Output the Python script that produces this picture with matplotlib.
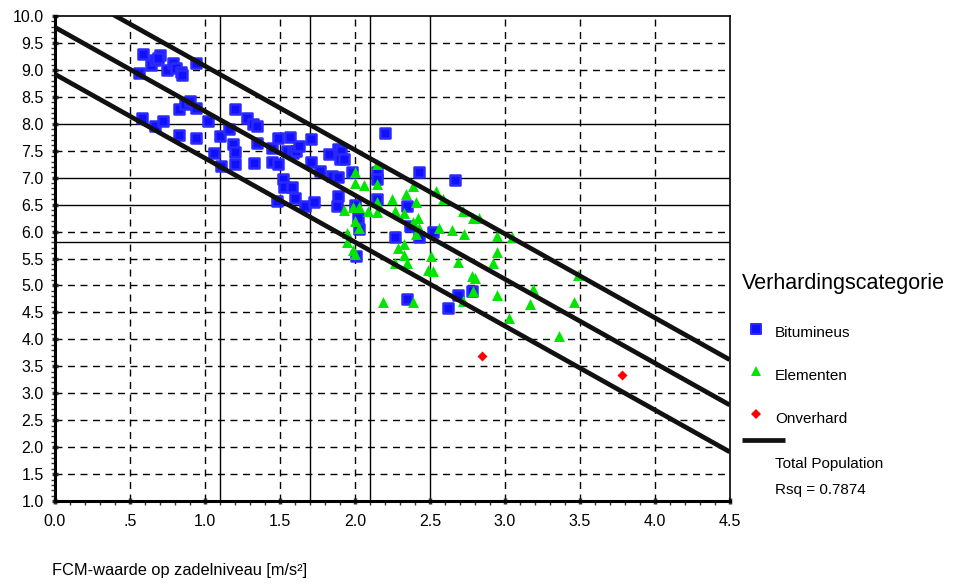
import matplotlib
matplotlib.use('Agg')
import matplotlib.pyplot as plt
from matplotlib.lines import Line2D
from matplotlib.markers import MarkerStyle
from matplotlib.ticker import MultipleLocator

plt.rcParams['font.family'] = ['Liberation Sans', 'DejaVu Sans']

# Bitumineus (blue squares)
bit_x = [0.59, 0.56, 0.64, 0.67, 0.70, 0.69, 0.75, 0.79, 0.81, 0.84, 0.85, 0.94,
         0.58, 0.67, 0.72, 0.83, 0.87, 0.90, 0.94, 0.83, 0.94, 1.02, 1.06, 1.10,
         1.11, 1.16, 1.20, 1.19, 1.20, 1.20, 1.28, 1.32, 1.35, 1.33, 1.35, 1.45,
         1.45, 1.49, 1.49, 1.52, 1.53, 1.58, 1.57, 1.55, 1.59, 1.61, 1.63, 1.48,
         1.60, 1.67, 1.73, 1.71, 1.71, 1.77, 1.89, 1.91, 1.83, 1.90, 1.93, 1.85,
         1.89, 1.98, 2.15, 2.15, 2.43, 2.67, 1.89, 1.88, 2.00, 2.15, 2.35, 2.02,
         2.03, 2.27, 2.43, 2.52, 2.37, 2.01, 2.20, 2.35, 2.62, 2.69, 2.78]
bit_y = [9.30, 8.95, 9.10, 9.19, 9.28, 9.22, 9.00, 9.13, 9.04, 8.97, 8.91, 9.13,
         8.10, 7.95, 8.06, 8.27, 8.36, 8.42, 8.30, 7.79, 7.73, 8.06, 7.45, 7.77,
         7.22, 7.90, 8.27, 7.62, 7.47, 7.25, 8.10, 7.99, 7.95, 7.27, 7.64, 7.56,
         7.29, 7.25, 7.73, 6.97, 6.83, 6.83, 7.75, 7.49, 7.45, 7.49, 7.58, 6.57,
         6.62, 6.48, 6.55, 7.71, 7.29, 7.12, 7.53, 7.50, 7.44, 7.34, 7.34, 7.03,
         7.01, 7.10, 7.10, 6.97, 7.10, 6.96, 6.66, 6.48, 6.49, 6.60, 6.48, 6.25,
         6.05, 5.90, 5.90, 6.00, 6.11, 5.54, 7.82, 4.74, 4.59, 4.83, 4.89]

# Elementen (green triangles)
ele_x = [2.00, 2.00, 2.06, 2.15, 2.15, 2.34, 2.39, 2.54, 2.59, 2.41, 2.25, 2.15,
         1.93, 1.99, 2.03, 2.09, 2.15, 2.27, 2.33, 2.00, 2.03, 1.95, 1.95, 1.99,
         2.00, 2.29, 2.33, 2.33, 2.35, 2.27, 2.42, 2.39, 2.41, 2.43, 2.49, 2.52,
         2.51, 2.56, 2.65, 2.73, 2.69, 2.78, 2.80, 2.95, 2.95, 2.92, 3.05, 2.83,
         2.79, 2.72, 3.49, 2.19, 2.39, 2.72, 2.79, 2.95, 3.19, 3.17, 3.03, 3.46,
         3.36]
ele_y = [7.10, 6.90, 6.86, 7.25, 6.88, 6.70, 6.85, 6.75, 6.60, 6.55, 6.60, 6.55,
         6.40, 6.45, 6.45, 6.38, 6.36, 6.38, 6.35, 6.20, 6.07, 5.98, 5.81, 5.66,
         5.59, 5.70, 5.77, 5.57, 5.41, 5.41, 6.25, 6.18, 5.96, 6.07, 5.28, 5.26,
         5.54, 6.07, 6.03, 5.96, 5.44, 5.18, 5.13, 5.92, 5.63, 5.41, 5.90, 6.25,
         6.25, 6.38, 5.20, 4.69, 4.70, 4.72, 4.89, 4.82, 4.94, 4.65, 4.39, 4.69,
         4.06]

# Onverhard (red diamonds)
onv_x = [2.85, 3.78]
onv_y = [3.69, 3.34]

# total population fit and the band around it
fit_intercept = 9.79
fit_slope = -1.557
band_upper = 0.84
band_lower = -0.87
rsq = 0.7874

# reference lines in the chart
ref_x = [1.1, 1.7, 2.1, 2.5]
ref_y = [8.0, 7.0, 6.5, 5.8]
grid_x = [0.5, 1.0, 1.5, 2.0, 3.0, 3.5, 4.0]
grid_y = [1.5, 2.0, 2.5, 3.0, 3.5, 4.0, 4.5, 5.0, 5.5, 6.0, 7.5, 8.5, 9.0, 9.5]

x_ticks = [0.0, 0.5, 1.0, 1.5, 2.0, 2.5, 3.0, 3.5, 4.0, 4.5]
x_labels = ['0.0', '.5', '1.0', '1.5', '2.0', '2.5', '3.0', '3.5', '4.0', '4.5']
y_ticks = [1.0, 1.5, 2.0, 2.5, 3.0, 3.5, 4.0, 4.5, 5.0, 5.5, 6.0, 6.5, 7.0,
           7.5, 8.0, 8.5, 9.0, 9.5, 10.0]

BLUE = '#1010ff'
BLUE_EDGE = '#2a2aff'
GREEN = '#00e600'
RED = '#ff0000'

fig = plt.figure(figsize=(9.68, 5.84), dpi=100)
ax = fig.add_axes([0.0568, 0.142, 0.697, 0.8306])
ax.set_xlim(0, 4.5)
ax.set_ylim(1.0, 10.0)

# grid: dashed at regular ticks, solid at reference values
for gx in grid_x:
    ax.axvline(gx, color='black', lw=1.0, ls=(0, (5, 4)), zorder=1)
for gy in grid_y:
    ax.axhline(gy, color='black', lw=1.0, ls=(0, (5, 4)), zorder=1)
for rx in ref_x:
    ax.axvline(rx, color='black', lw=1.0, zorder=1)
for ry in ref_y:
    ax.axhline(ry, color='black', lw=1.0, zorder=1)

sq = MarkerStyle('s', joinstyle='round')
ax.scatter(bit_x, bit_y, marker=sq, s=50, facecolor=BLUE,
           edgecolor=BLUE_EDGE, linewidths=1.8, zorder=3)
ax.scatter(ele_x, ele_y, marker='^', s=62, color=GREEN, linewidths=0,
           zorder=3)
ax.scatter(onv_x, onv_y, marker='D', s=26, color=RED, linewidths=0,
           zorder=3)

# fit line with upper and lower band
xs = [0.0, 4.5]
for off in [0.0, band_upper, band_lower]:
    ys = [fit_intercept + off + fit_slope * v for v in xs]
    ax.plot(xs, ys, color='#111111', lw=3.4, zorder=4, solid_capstyle='butt')

ax.set_xticks(x_ticks)
ax.set_xticklabels(x_labels)
ax.set_yticks(y_ticks)
ax.set_yticklabels(['%.1f' % v for v in y_ticks])
ax.xaxis.set_minor_locator(MultipleLocator(0.1))
ax.yaxis.set_minor_locator(MultipleLocator(0.1))
ax.tick_params(axis='both', which='major', direction='inout', length=4,
               width=2.5, labelsize=11.5, color='#333333')
ax.tick_params(axis='x', which='major', pad=7)
ax.tick_params(axis='y', which='major', pad=6)
ax.tick_params(axis='both', which='minor', direction='out', length=3,
               width=1.0, color='#333333')

for side in ['left', 'bottom']:
    ax.spines[side].set_linewidth(2.2)
for side in ['top', 'right']:
    ax.spines[side].set_linewidth(1.2)

fig.text(52 / 968, 1 - 570 / 584, 'FCM-waarde op zadelniveau [m/s\u00b2]',
         fontsize=11.8, ha='left', va='center')

# legend on the right, drawn by hand
def fx(px):
    return px / 968

def fy(py):
    return 1 - py / 584

fig.text(fx(742), fy(284), 'Verhardingscategorie', fontsize=15.5,
         ha='left', va='center')
entries = [
    ('Bitumineus', dict(marker=sq, markersize=7, markerfacecolor=BLUE,
                        markeredgecolor=BLUE_EDGE, markeredgewidth=1.4), 329, 333),
    ('Elementen', dict(marker='^', markersize=7, markerfacecolor=GREEN,
                       markeredgewidth=0), 371, 376),
    ('Onverhard', dict(marker='D', markersize=5, markerfacecolor=RED,
                       markeredgewidth=0), 414, 419),
]
for label, style, my, ty in entries:
    fig.add_artist(Line2D([fx(756)], [fy(my)], linestyle='none', **style))
    fig.text(fx(775), fy(ty), label, fontsize=11, ha='left', va='center')

fig.add_artist(Line2D([fx(742), fx(785)], [fy(440), fy(440)], color='#111111',
                      lw=3.4, solid_capstyle='butt'))
fig.text(fx(775), fy(464), 'Total Population', fontsize=11, ha='left',
         va='center')
fig.text(fx(775), fy(490), 'Rsq = %.4f' % rsq, fontsize=11, ha='left',
         va='center')

fig.savefig('out.png', dpi=100)
